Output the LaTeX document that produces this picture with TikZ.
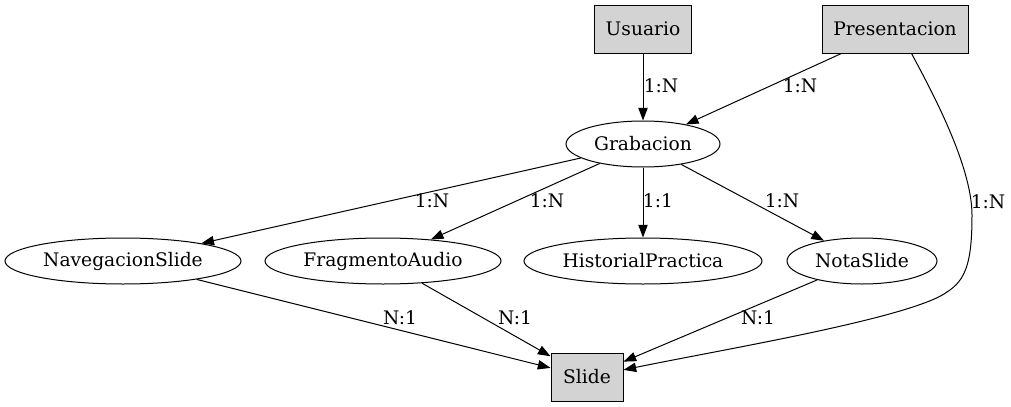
\documentclass[tikz,border=0pt]{standalone}
\usepackage{fontspec}
\setmainfont{DejaVu Serif}
\usetikzlibrary{shapes.geometric, arrows.meta, positioning}
\definecolor{lightgrey}{HTML}{D3D3D3}

\tikzset{
	ent/.style = {draw, fill=lightgrey, rectangle, inner sep=0pt, minimum height=36pt, line width=0.75pt},
	rel/.style = {draw, ellipse, inner sep=0pt, minimum height=34.5pt, line width=0.75pt},
	lbl/.style = {inner sep=0pt},
	arr/.style = {-{Triangle[length=9.5pt, width=7pt]}, line width=0.75pt}
}

\begin{document}
\begin{tikzpicture}[x=0.75pt, y=-0.75pt, font=\fontsize{14pt}{16pt}\selectfont]
		\useasboundingbox (0,0) rectangle (1011,407);

		\node[ent, minimum width=72.75pt] (usuario) at (643,29) {Usuario};
		\node[ent, minimum width=109.5pt] (present) at (895,29) {Presentacion};
		\node[rel, minimum width=115.5pt] (grab) at (643,144) {Grabacion};
		\node[rel, minimum width=177pt] (nav) at (123,261) {NavegacionSlide};
		\node[rel, minimum width=177pt] (frag) at (383,261) {FragmentoAudio};
		\node[rel, minimum width=178.5pt] (hist) at (643,261) {HistorialPractica};
		\node[rel, minimum width=112.5pt] (nota) at (862,261) {NotaSlide};
		\node[ent, minimum width=54pt] (slide) at (587,377) {Slide};

		% edges from the top
		\draw[arr] (usuario) -- (grab);
		\draw[arr] (present) -- (grab);
		\draw[arr] (present.-56) .. controls (930,88) and (972,165) .. (972,215)
			.. controls (972,262) and (966,280) .. (947,292)
			.. controls (912,318) and (720,350) .. (slide.11);

		\draw[arr] (grab) -- (nav);
		\draw[arr] (grab) -- (frag);
		\draw[arr] (grab) -- (hist);
		\draw[arr] (grab) -- (nota);

		\draw[arr] (nav) -- (slide);
		\draw[arr] (frag) -- (slide);
		\draw[arr] (nota) -- (slide);

		% labels
		\node[lbl] (l1) at (661,86) {1:N};
		\node[lbl] (l2) at (800,86) {1:N};
		\node[lbl] (l3) at (988,202) {1:N};
		\node[lbl] (l4) at (432,201) {1:N};
		\node[lbl] (l5) at (547,201) {1:N};
		\node[lbl] (l6) at (658,201) {1:1};
		\node[lbl] (l7) at (782,201) {1:N};
		\node[lbl] (l8) at (400,318) {N:1};
		\node[lbl] (l9) at (515,318) {N:1};
		\node[lbl] (l10) at (758,318) {N:1};
	\end{tikzpicture}
\end{document}
